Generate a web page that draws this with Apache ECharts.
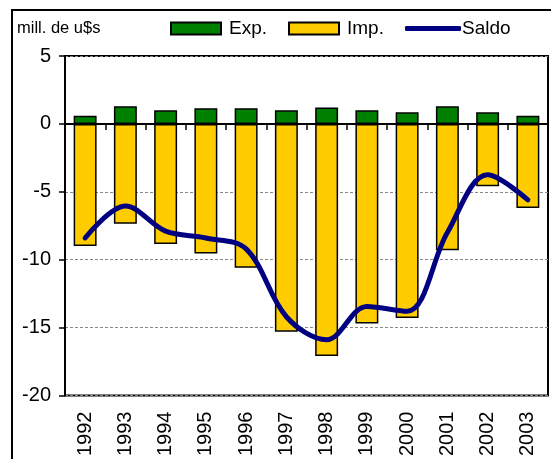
<!DOCTYPE html>
<html>
<head>
<meta charset="utf-8">
<script src="https://cdn.jsdelivr.net/npm/echarts@6/dist/echarts.min.js"></script>
<style>
  html, body { margin: 0; padding: 0; background: #fff; }
  #chart { width: 551px; height: 459px; }
</style>
</head>
<body>
<div id="chart"></div>
<script>
// datos (mill. de u$s)
var years = ['1992', '1993', '1994', '1995', '1996', '1997', '1998', '1999', '2000', '2001', '2002', '2003']
var exp = [0.6, 1.3, 1.0, 1.15, 1.15, 1.0, 1.2, 1.0, 0.85, 1.3, 0.85, 0.6]
var imp = [-9.0, -7.35, -8.85, -9.55, -10.6, -15.3, -17.1, -14.7, -14.3, -9.3, -4.6, -6.2]
var saldo = [-8.4, -6.05, -7.9, -8.4, -9.2, -14.2, -15.9, -13.45, -13.8, -8.0, -3.75, -5.6]
var yTicks = [5, 0, -5, -10, -15, -20]

var font = 'Liberation Sans'
var chart = echarts.init(document.getElementById('chart'))
var option = {
  animation: false,
  textStyle: { fontFamily: font },
  graphic: [
    {
      type: 'rect',
      shape: { x: 12, y: 10, width: 700, height: 600 },
      style: { fill: 'none', stroke: '#000', lineWidth: 2 }
    },
    {
      type: 'text',
      left: 17,
      top: 20,
      style: { text: 'mill. de u$s', font: '16.5px ' + font, fill: '#000' }
    }
  ],
  legend: [
    {
      left: 165,
      top: 14,
      itemWidth: 50,
      itemHeight: 12,
      itemGap: 21,
      textStyle: { fontSize: 19, color: '#000', fontFamily: font, padding: [0, 0, 0, 3] },
      data: [
        { name: 'Exp.', icon: 'rect' },
        { name: 'Imp.', icon: 'rect' }
      ]
    },
    {
      left: 400,
      top: 14,
      itemWidth: 56,
      itemHeight: 5,
      textStyle: { fontSize: 19, color: '#000', fontFamily: font, padding: [0, 0, 0, -4] },
      data: [{ name: 'Saldo', icon: 'roundRect' }]
    }
  ],
  grid: {
    left: 65,
    top: 56,
    right: 3,
    bottom: 63,
    show: true,
    borderColor: '#000',
    borderWidth: 2,
    backgroundColor: 'transparent'
  },
  xAxis: [
    {
      type: 'category',
      gridIndex: 0,
      data: years,
      position: 'bottom',
      axisLine: { show: false, onZero: false },
      axisTick: { show: false },
      axisLabel: { rotate: 90, fontSize: 20, color: '#000', margin: 16, fontFamily: font }
    },
    {
      // eje en cero con marcas hacia abajo
      type: 'category',
      gridIndex: 0,
      data: years,
      position: 'top',
      offset: -68,
      axisLine: { show: true, onZero: false, lineStyle: { color: '#000', width: 2 } },
      axisTick: { show: true, inside: true, length: 6, lineStyle: { color: '#000', width: 1.5 } },
      axisLabel: { show: false },
      splitLine: { show: false },
      z: 6
    }
  ],
  yAxis: {
    type: 'value',
    min: -20,
    max: 5,
    interval: 5,
    axisLine: { show: true, onZero: false, lineStyle: { color: '#000', width: 2 } },
    axisTick: { show: true, length: 6, lineStyle: { color: '#000', width: 1.5 } },
    axisLabel: {
      fontSize: 20,
      color: '#000',
      margin: 14,
      fontFamily: font,
      formatter: function(v) { return yTicks.indexOf(v) !== -1 ? String(v) : '' }
    },
    splitLine: { show: true, lineStyle: { color: '#888', type: [3, 2], width: 1 } }
  },
  series: [
    {
      name: 'Exp.',
      type: 'bar',
      stack: 'total',
      barWidth: '57%',
      itemStyle: { color: '#008000', borderColor: '#000', borderWidth: 1.5 },
      data: exp
    },
    {
      name: 'Imp.',
      type: 'bar',
      stack: 'total',
      barWidth: '57%',
      itemStyle: { color: '#FFCC00', borderColor: '#000', borderWidth: 1.5 },
      data: imp
    },
    {
      name: 'Saldo',
      type: 'line',
      smooth: 0.35,
      symbol: 'none',
      lineStyle: { color: '#000080', width: 5, cap: 'round' },
      itemStyle: { color: '#000080' },
      data: saldo,
      z: 5
    }
  ]
}
chart.setOption(option)
</script>
</body>
</html>
